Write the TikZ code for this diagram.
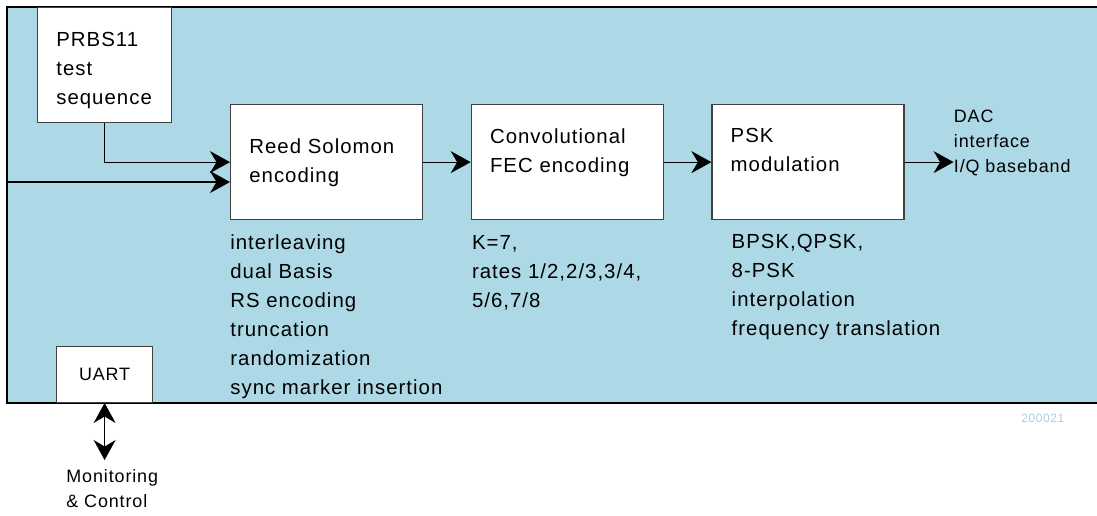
\documentclass[tikz,border=0pt]{standalone}
\usepackage{fontspec}
\setmainfont{Liberation Sans}[LetterSpace=5]
\usepackage{tikz}
\usetikzlibrary{arrows.meta,positioning}
\definecolor{bgblue}{RGB}{173,216,230}
\definecolor{idblue}{RGB}{165,208,226}
\newcommand\bigsz{\fontsize{11.6pt}{16.5pt}\selectfont}
\newcommand\smallsz{\fontsize{10.2pt}{14.2pt}\selectfont}
\newcommand\tinysz{\fontsize{6.8pt}{8pt}\selectfont}

\begin{document}
\begin{tikzpicture}[
  x=0.02cm, y=-0.02cm,
  box/.style={draw=black!75, fill=white, line width=0.7pt, inner sep=0pt,
              minimum width=3.84cm, minimum height=2.3cm},
  lbl/.style={anchor=north west, inner sep=0pt, align=left, font=\bigsz},
  note/.style={anchor=north west, inner sep=0pt, align=left, font=\smallsz},
  >={Stealth[length=0.4cm, width=0.44cm, inset=0.13cm]},
  arr/.style={->, line width=0.6pt},
  node distance=0.95cm,
]
  \useasboundingbox (0,0) rectangle (1097,515);
  % board
  \fill[bgblue] (7,7) rectangle (1097,403);
  \draw[line width=1.1pt] (1097,7) -- (7,7) -- (7,403) -- (1097,403);

  % blocks
  \node[box, anchor=north west, minimum width=2.68cm] (prbs) at (37,7) {};
  \node[lbl] (prbstxt) at ([shift={(19,25)}]prbs.north west) {PRBS11\\test\\sequence};
  \node[box, anchor=north west] (rs) at (230,104) {};
  \node[box, right=of rs] (conv) {};
  \node[box, right=of conv] (psk) {};
  \node[lbl] (rstxt) at ([shift={(19,34)}]rs.north west) {Reed Solomon\\encoding};
  \node[lbl] (convtxt) at ([shift={(19,24)}]conv.north west) {Convolutional\\FEC encoding};
  \node[lbl] (psktxt) at ([shift={(19,24)}]psk.north west) {PSK\\modulation};

  % notes under the blocks
  \node[lbl] (rslist) at ([shift={(0,14)}]rs.south west)
    {interleaving\\dual Basis\\RS encoding\\truncation\\randomization\\sync marker insertion};
  \node[lbl] (convlist) at ([shift={(1,15)}]conv.south west)
    {K=7,\\rates 1/2,2/3,3/4,\\5/6,7/8};
  \node[lbl] (psklist) at ([shift={(20,14)}]psk.south west)
    {BPSK,QPSK,\\8-PSK\\interpolation\\frequency translation};
  \node[note] (dac) at ([shift={(49,-52)}]psk.east) {DAC\\interface\\I/Q baseband};

  \node[box, anchor=south west, minimum width=1.92cm, minimum height=1.12cm,
        font=\smallsz] (uart) at (56,403) {UART};
  \node[note] (mc) at (66,469) {Monitoring\\\& Control};
  \node[anchor=north west, inner sep=0pt, font=\tinysz, text=idblue] (figid) at (1021,414) {200021};

  % connections
  \coordinate (ext) at (7,182);
  \draw[arr] (prbs.south) |- (rs.west);
  \draw[arr] (ext) -- (ext -| rs.west);
  \draw[arr] (rs) -- (conv);
  \draw[arr] (conv) -- (psk);
  \draw[arr] (psk) -- (psk.east -| dac.west);
  \draw[<->, line width=0.6pt, shorten >=0.18cm] (uart.south) -- (uart.south |- mc.north);
\end{tikzpicture}
\end{document}
